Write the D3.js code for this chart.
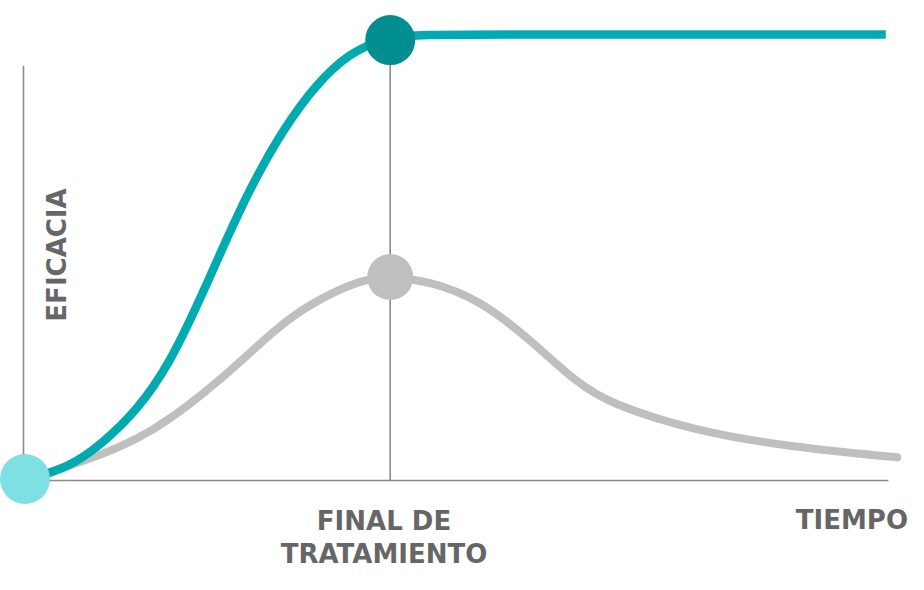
<!DOCTYPE html>
<html>
<head>
<meta charset="utf-8">
<script src="https://cdn.jsdelivr.net/npm/d3@7"></script>
<style>
  html, body { margin: 0; padding: 0; background: #fff; }
  svg { display: block; }
  text { font-family: "DejaVu Sans", Verdana, sans-serif; font-weight: bold; fill: #666; }
</style>
</head>
<body>
<div id="chart"></div>
<script>
// ---- data (time 0..100, efficacy 0..100) ----
const tealTime   = [0, 5.3, 9.0, 12.9, 16.7, 20.1, 22.1, 25.9, 29.6, 33.5, 37.3, 40.4, 41.9, 44, 60, 98.6];
const tealValues = [0, 3.0, 8.4, 15.6, 26.3, 40.5, 49.4, 65.8, 78.6, 89.1, 95.9, 98.4, 99.2, 100, 100, 100];
const greyTime   = [0, 7.2, 11.0, 14.8, 18.6, 22.4, 26.2, 30.1, 33.1, 38.8, 41.9, 46.5, 52.2, 57.6, 63.3, 67.0, 76.5, 88.0, 99.9];
const greyValues = [0, 4.6, 7.5, 11.3, 16.5, 22.5, 29.3, 36.0, 40.0, 45.3, 45.6, 44.7, 40.4, 32.1, 21.8, 17.3, 11.2, 7.4, 5.2];
const endOfTreatment = 41.9;
const xAxisEnd = 98.9;
const yAxisTop = 93;
const labels = { y: "EFICACIA", x: "TIEMPO", mark: ["FINAL DE", "TRATAMIENTO"] };

const W = 924, H = 590;
const svg = d3.select("#chart").append("svg").attr("width", W).attr("height", H);

const x = d3.scaleLinear().domain([0, 100]).range([24, 898]);
const y = d3.scaleLinear().domain([0, 100]).range([480.5, 34.5]);

const axisColor = "#8a8a8a";

// axes
svg.append("line")
  .attr("x1", x(0) - 0.5).attr("x2", x(0) - 0.5)
  .attr("y1", y(0)).attr("y2", y(yAxisTop))
  .attr("stroke", axisColor).attr("stroke-width", 1.6);
svg.append("line")
  .attr("x1", x(0)).attr("x2", x(xAxisEnd))
  .attr("y1", y(0)).attr("y2", y(0))
  .attr("stroke", axisColor).attr("stroke-width", 1.6);

// end of treatment marker line
const tealAtEnd = tealValues[tealTime.indexOf(endOfTreatment)];
svg.append("line")
  .attr("x1", x(endOfTreatment)).attr("x2", x(endOfTreatment))
  .attr("y1", y(tealAtEnd)).attr("y2", y(0))
  .attr("stroke", axisColor).attr("stroke-width", 1.6);

const line = d3.line().x(d => x(d[0])).y(d => y(d[1])).curve(d3.curveBasis);

// grey curve
svg.append("path")
  .datum(d3.zip(greyTime, greyValues))
  .attr("d", line)
  .attr("fill", "none").attr("stroke", "#bebfbe").attr("stroke-width", 8)
  .attr("stroke-linecap", "round");

// teal curve
svg.append("path")
  .datum(d3.zip(tealTime, tealValues))
  .attr("d", line)
  .attr("fill", "none").attr("stroke", "#00aab1").attr("stroke-width", 8.5)
  .attr("stroke-linecap", "butt");

// dots
const greyPeak = greyValues[greyTime.indexOf(endOfTreatment)];
svg.append("circle").attr("cx", x(endOfTreatment)).attr("cy", y(greyPeak)).attr("r", 23).attr("fill", "#bebfbe");
svg.append("circle").attr("cx", x(endOfTreatment)).attr("cy", y(tealAtEnd) + 2).attr("r", 25).attr("fill", "#008e91");
svg.append("circle").attr("cx", x(0) + 1).attr("cy", y(0) - 1.5).attr("r", 25).attr("fill", "#7ee0e3");

// labels
svg.append("text")
  .attr("transform", `translate(66,255) rotate(-90)`)
  .attr("text-anchor", "middle")
  .attr("font-size", 26)
  .text(labels.y);

svg.append("text")
  .attr("x", 908).attr("y", 529)
  .attr("text-anchor", "end")
  .attr("font-size", 26)
  .text(labels.x);

const mt = svg.append("text")
  .attr("text-anchor", "middle")
  .attr("font-size", 26);
mt.append("tspan").attr("x", 384).attr("y", 530).text(labels.mark[0]);
mt.append("tspan").attr("x", 384).attr("y", 563).text(labels.mark[1]);
</script>
</body>
</html>
